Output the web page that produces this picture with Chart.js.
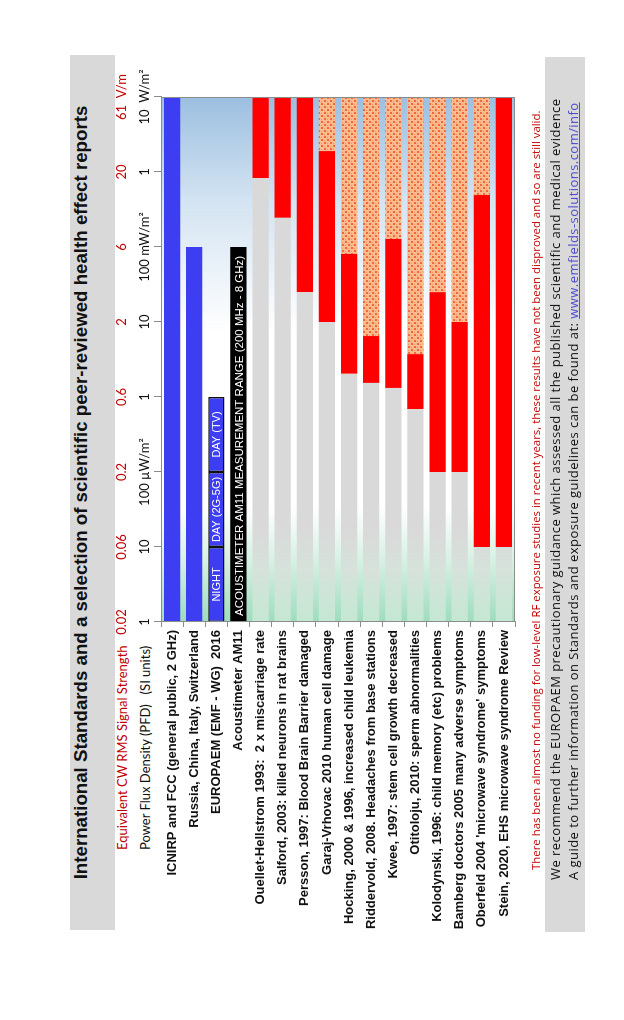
<!DOCTYPE html>
<html lang="en">
<head>
    <meta charset="UTF-8">
    <title>International Standards and health effect reports</title>
    <script src="https://cdn.jsdelivr.net/npm/chart.js"></script>
    <style>
        body {
            margin: 0;
            width: 624px;
            height: 1020px;
            overflow: hidden;
            background: #ffffff;
        }
        /* the whole sheet is laid out landscape and turned a quarter to the left */
        #page {
            position: absolute;
            left: 0;
            top: 0;
            width: 1020px;
            height: 624px;
            transform-origin: 0 0;
            transform: translateY(1020px) rotate(-90deg);
        }
        .band {
            position: absolute;
            background: #d9d9d9;
        }
        .title {
            left: 90px;
            top: 70px;
            width: 875px;
            height: 45px;
            line-height: 45px;
            text-align: center;
            font: bold 18.7px "Liberation Sans", Arial, sans-serif;
            color: #111;
        }
        .axisTitle {
            position: absolute;
            left: 170px;
            font: 13px Lato, sans-serif;
            white-space: pre;
        }
        #chart {
            position: absolute;
            left: 60px;
            top: 90px;
        }
        .note {
            position: absolute;
            left: 150px;
            top: 528px;
            font: 11.4px "Open Sans", sans-serif;
            color: #c00000;
            white-space: nowrap;
        }
        .footer {
            left: 88px;
            top: 545px;
            width: 875px;
            height: 40px;
            font: 13px "Open Sans", sans-serif;
            letter-spacing: 0.45px;
            color: #111;
        }
        .footer div {
            position: absolute;
            left: 52px;
            white-space: nowrap;
        }
        .footer a {
            color: #4b4bd6;
        }
    </style>
</head>
<body>
<div id="page">
    <div class="band title">International Standards and a selection of scientific peer-reviewed health effect reports</div>
    <div class="axisTitle" style="top:114px; color:#c00000;">Equivalent CW RMS Signal Strength</div>
    <div class="axisTitle" style="top:137px; color:#111;">Power Flux Density (PFD)   (SI units)</div>
    <canvas id="chart" width="940" height="440"></canvas>
    <div class="note">There has been almost no funding for low-level RF exposure studies in recent years, these results have not been disproved and so are still valid.</div>
    <div class="band footer">
        <div style="top:1px;">We recommend the EUROPAEM precautionary guidance which assessed all the published scientific and medical evidence</div>
        <div style="top:19px;">A guide to further information on Standards and exposure guidelines can be found at: <a href="#">www.emfields-solutions.com/info</a></div>
    </div>
</div>

<script>
    // all values in µW/m²
    const categories = [
        'ICNIRP and FCC (general public, 2 GHz)',
        'Russia, China, Italy, Switzerland',
        'EUROPAEM (EMF - WG)  2016',
        'Acoustimeter AM11',
        'Ouellet-Hellstrom 1993:  2 x miscarriage rate',
        'Salford, 2003: killed neurons in rat brains',
        'Persson, 1997: Blood Brain Barrier damaged',
        'Garaj-Vrhovac 2010 human cell damage',
        'Hocking, 2000 & 1996, increased child leukemia',
        'Riddervold, 2008. Headaches from base stations',
        'Kwee, 1997: stem cell growth decreased',
        'Otitoloju, 2010: sperm abnormalities',
        'Kolodynski, 1996: child memory (etc) problems',
        'Bamberg doctors 2005 many adverse symptoms',
        "Oberfeld 2004 'microwave syndrome' symptoms",
        'Stein, 2020, EHS microwave syndrome Review'
    ];
    const standardLimits = [1e7, 1e5];              // ICNIRP/FCC, Russia etc.
    const europaemBands = [10, 100, 1000];          // night, day (2G-5G), day (TV)
    const europaemNames = ['NIGHT', 'DAY (2G-5G)', 'DAY (TV)'];
    const acoustimeterRange = [1, 1e5];
    const studyNoEffect = [830000, 245000, 25000, 10000, 2040, 1540, 1320, 690, 100, 100, 10, 10];
    const studyEffectTop = [1e7, 1e7, 1e7, 1.9e6, 81000, 6500, 128000, 3730, 25000, 10000, 493000, 1e7];

    const tickValues = [1, 10, 100, 1e3, 1e4, 1e5, 1e6, 1e7];
    const pfdLabels = ['1', '10', '100 µW/m²', '1', '10', '100 mW/m²', '1', '10  W/m²'];
    const fieldLabels = ['0.02', '0.06', '0.2', '0.6', '2', '6', '20', '61  V/m'];

    const AXIS_MIN = 1, AXIS_MAX = 1e7;
    const firstStudy = 4;

    const canvas = document.getElementById('chart');
    const ctx = canvas.getContext('2d');

    // orange dotted fill for effects reported above the measured level
    const tile = document.createElement('canvas');
    tile.width = 6; tile.height = 6;
    const t = tile.getContext('2d');
    t.fillStyle = '#fbbb90';
    t.fillRect(0, 0, 6, 6);
    t.fillStyle = '#ef6a38';
    t.fillRect(0, 0, 2, 2);
    t.fillRect(3, 3, 2, 2);
    t.fillStyle = '#f6925a';
    t.fillRect(3, 0, 1, 1);
    t.fillRect(0, 3, 1, 1);
    const hatch = ctx.createPattern(tile, 'repeat');

    // grey "no effect" part picks up the green tint near the bottom of the range
    const greyFill = context => {
        const a = context.chart.chartArea;
        if (!a) return '#d9d9d9';
        const g = context.chart.ctx.createLinearGradient(a.left, 0, a.right, 0);
        g.addColorStop(0, '#c4e8d3');
        g.addColorStop(0.1, '#d6e2db');
        g.addColorStop(0.18, '#d9d9d9');
        g.addColorStop(1, '#d9d9d9');
        return g;
    };

    const only = (idx, range) => categories.map((c, i) => i === idx ? range : null);
    const studies = fn => categories.map((c, i) => i < firstStudy ? null : fn(i - firstStudy));

    const datasets = [
        {
            data: categories.map((c, i) => i < standardLimits.length ? [AXIS_MIN, standardLimits[i]] : null),
            backgroundColor: '#3d3df2'
        },
        ...europaemBands.map((top, k) => ({
            data: only(2, [k === 0 ? AXIS_MIN : europaemBands[k - 1], top]),
            backgroundColor: '#3d3df2',
            borderColor: '#111',
            borderWidth: 1.5,
            borderSkipped: false
        })),
        {
            data: only(3, acoustimeterRange),
            backgroundColor: '#000000'
        },
        {
            data: studies(k => [AXIS_MIN, studyNoEffect[k]]),
            backgroundColor: greyFill
        },
        {
            data: studies(k => [studyNoEffect[k], studyEffectTop[k]]),
            backgroundColor: '#ff0000'
        },
        {
            data: studies(k => studyEffectTop[k] < AXIS_MAX ? [studyEffectTop[k], AXIS_MAX] : null),
            backgroundColor: hatch
        }
    ];

    const backdrop = {
        id: 'backdrop',
        beforeDatasetsDraw(chart) {
            const a = chart.chartArea, c = chart.ctx;
            const g = c.createLinearGradient(a.left, 0, a.right, 0);
            g.addColorStop(0, '#9edcbd');
            g.addColorStop(0.12, '#d8f1e4');
            g.addColorStop(0.22, '#ffffff');
            g.addColorStop(0.55, '#ffffff');
            g.addColorStop(0.8, '#d4e4f2');
            g.addColorStop(1, '#9cbfe0');
            c.save();
            c.fillStyle = g;
            c.fillRect(a.left, a.top, a.right - a.left, a.bottom - a.top);
            c.restore();
        },
        afterDatasetsDraw(chart) {
            const a = chart.chartArea, c = chart.ctx;
            const x = chart.scales.x, y = chart.scales.y;
            c.save();
            c.strokeStyle = '#8c8c8c';
            c.lineWidth = 1;
            c.strokeRect(a.left + 0.5, a.top + 0.5, a.right - a.left - 1, a.bottom - a.top - 1);

            c.fillStyle = '#ffffff';
            c.textBaseline = 'middle';
            c.textAlign = 'center';
            c.font = '11px "Liberation Sans", Arial, sans-serif';
            const yEu = y.getPixelForValue(2);
            europaemBands.forEach((top, k) => {
                const lo = k === 0 ? AXIS_MIN : europaemBands[k - 1];
                const mid = (x.getPixelForValue(lo) + x.getPixelForValue(top)) / 2;
                c.fillText(europaemNames[k], mid, yEu + 1);
            });
            c.textAlign = 'left';
            c.font = '11.5px "Liberation Sans", Arial, sans-serif';
            c.fillText('ACOUSTIMETER AM11 MEASUREMENT RANGE (200 MHz - 8 GHz)',
                x.getPixelForValue(acoustimeterRange[0]) + 6, y.getPixelForValue(3) + 1);
            c.restore();
        }
    };

    const fixedTicks = scale => {
        scale.ticks = tickValues.map(v => ({ value: v }));
    };

    new Chart(ctx, {
        type: 'bar',
        data: { labels: categories, datasets: datasets },
        options: {
            responsive: false,
            animation: false,
            indexAxis: 'y',
            layout: { padding: { top: 23, right: 77, bottom: 15, left: 0 } },
            datasets: {
                bar: {
                    grouped: false,
                    categoryPercentage: 1,
                    barPercentage: 0.74
                }
            },
            plugins: {
                legend: { display: false },
                tooltip: { enabled: false }
            },
            scales: {
                x: {
                    type: 'logarithmic',
                    position: 'top',
                    min: AXIS_MIN,
                    max: AXIS_MAX,
                    weight: 0,
                    afterBuildTicks: fixedTicks,
                    afterFit: s => { s.height = 24; },
                    border: { display: true, color: '#8c8c8c' },
                    grid: { drawOnChartArea: false, tickLength: 7, color: '#8c8c8c' },
                    ticks: {
                        autoSkip: false,
                        maxRotation: 0,
                        padding: 1,
                        color: '#111',
                        font: { family: 'Lato', size: 13 },
                        callback: (v, i) => pfdLabels[i]
                    }
                },
                x2: {
                    type: 'logarithmic',
                    axis: 'x',
                    position: 'top',
                    min: AXIS_MIN,
                    max: AXIS_MAX,
                    weight: 1,
                    afterBuildTicks: fixedTicks,
                    afterFit: s => { s.height = 24; },
                    border: { display: false },
                    grid: { display: false, drawTicks: false },
                    ticks: {
                        autoSkip: false,
                        maxRotation: 0,
                        padding: 7,
                        color: '#c00000',
                        font: { family: 'Lato', size: 13 },
                        callback: (v, i) => fieldLabels[i]
                    }
                },
                y: {
                    afterFit: s => { s.width = 338; },
                    border: { display: true, color: '#8c8c8c' },
                    grid: { drawOnChartArea: false, tickLength: 5, color: '#8c8c8c' },
                    ticks: {
                        padding: 3,
                        color: '#111',
                        font: { family: '"Liberation Sans", Arial, sans-serif', size: 13, weight: 'bold' }
                    }
                }
            }
        },
        plugins: [backdrop]
    });
</script>
</body>
</html>
